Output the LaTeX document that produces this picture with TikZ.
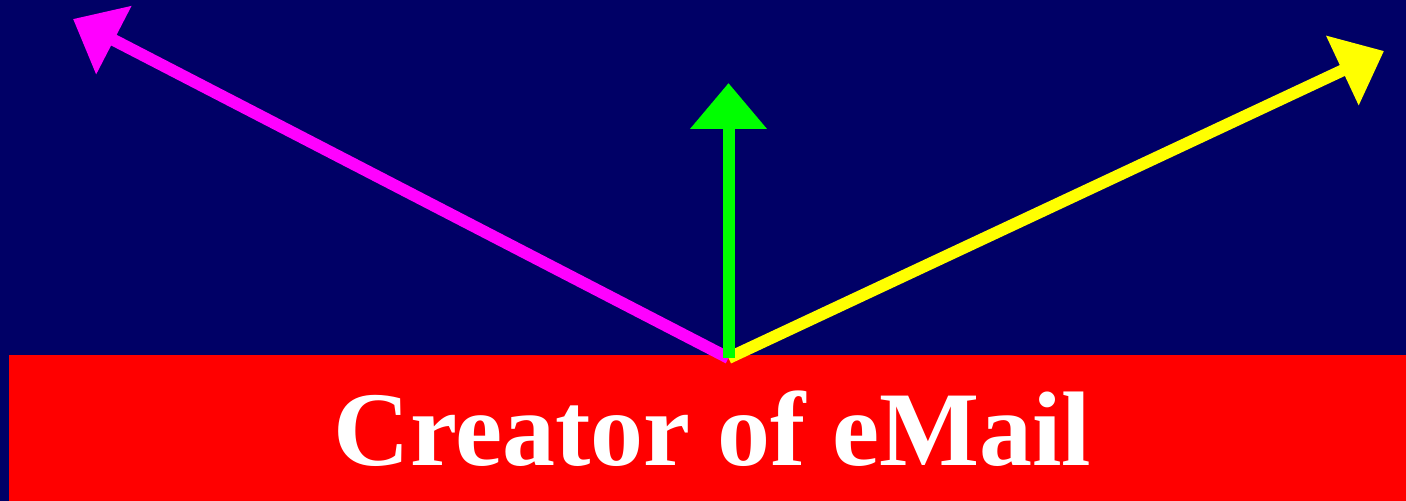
\documentclass[tikz,border=0pt]{standalone}
\usepackage{fontspec}
\setmainfont{Liberation Serif}
\usepackage{tikz}
\usetikzlibrary{arrows.meta}
\definecolor{emNavy}{HTML}{000066}
\definecolor{emRed}{HTML}{FF0000}
\definecolor{emMagenta}{HTML}{FF00FF}
\definecolor{emGreen}{HTML}{00FF00}
\definecolor{emYellow}{HTML}{FFFF00}
\tikzset{
  em diagram/.style={x=0.5pt, y=-0.5pt, line cap=butt, line join=miter},
  em band/.style={fill=emRed},
  em title/.style={font=\bfseries\fontsize{53}{60}\selectfont, text=white,
    inner sep=0pt, anchor=base},
  em arrow/.style={-{Triangle[length=23pt,width=37pt]}, line width=6pt}
}

\begin{document}
\begin{tikzpicture}[em diagram]
\fill[emNavy] (0,0) rectangle (1406,501);
\useasboundingbox (0,0) rectangle (1406,501);
\fill[em band] (9,355) rectangle (1406,501);
\node[em title] (creator) at (712.5,466) {Creator of eMail};
\coordinate (source) at (728.5,358);
\coordinate (left end) at (73,19);
\coordinate (up end) at (728.5,83);
\coordinate (right end) at (1384,51);
\draw[em arrow,emMagenta] (source) -- (left end);
\draw[em arrow,emYellow] (source) -- (right end);
\draw[em arrow,emGreen] (source) -- (up end);
\end{tikzpicture}
\end{document}
